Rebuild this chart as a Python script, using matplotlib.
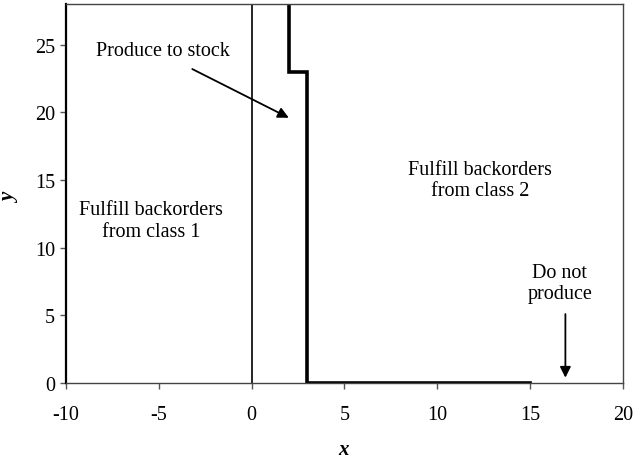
import matplotlib
matplotlib.use("Agg")
import matplotlib.pyplot as plt

# policy boundary (switching curve)
boundary_x = [2, 2, 3, 3, 15]
boundary_y = [28, 23, 23, 0, 0]

# thin vertical reference line at x = 0
ref_x = [0, 0]
ref_y = [0, 28]

x_ticks = [-10, -5, 0, 5, 10, 15, 20]
y_ticks = [0, 5, 10, 15, 20, 25]

plt.rcParams["font.family"] = ["Liberation Serif", "DejaVu Serif"]
plt.rcParams["axes.unicode_minus"] = False

fig = plt.figure(figsize=(6.35, 4.60), dpi=100)
ax = fig.add_axes([0.104, 0.165, 0.877, 0.824])

ax.plot(ref_x, ref_y, color="black", lw=1.2)
ax.plot(boundary_x, boundary_y, color="black", lw=2.6, solid_joinstyle="miter")

ax.set_xlim(-10, 20)
ax.set_ylim(0, 28)
ax.set_xticks(x_ticks)
ax.set_yticks(y_ticks)
ax.tick_params(labelsize=14.5, length=4, width=1, color="#555555")
ax.tick_params(axis="x", pad=12)
ax.tick_params(axis="y", pad=4)

for side in ["top", "right", "bottom"]:
    ax.spines[side].set_color("#444444")
    ax.spines[side].set_linewidth(1)
ax.spines["left"].set_linewidth(1.6)

ax.set_xlabel("x", fontsize=15, fontweight="bold", style="italic")
ax.set_ylabel("y", fontsize=15, fontweight="bold", style="italic")
ax.xaxis.set_label_coords(0.498, -0.148)
ax.yaxis.set_label_coords(-0.083, 0.49)

ax.text(-4.8, 24.6, "Produce to stock", fontsize=14.5, ha="center", va="center")
ax.annotate("", xy=(2.0, 19.6), xytext=(-3.2, 23.2),
            arrowprops=dict(arrowstyle="-|>", color="black", lw=1.3,
                            mutation_scale=16, shrinkA=0, shrinkB=0))

ax.text(-5.4, 12.0, "Fulfill backorders\nfrom class 1", fontsize=14.5,
        ha="center", va="center", linespacing=1.2)
ax.text(12.3, 15.0, "Fulfill backorders\nfrom class 2", fontsize=14.5,
        ha="center", va="center", linespacing=1.2)

ax.text(16.6, 7.4, "Do not\nproduce", fontsize=14.5, ha="center", va="center",
        linespacing=1.2)
ax.annotate("", xy=(16.9, 0.4), xytext=(16.9, 5.1),
            arrowprops=dict(arrowstyle="-|>", color="black", lw=1.3,
                            mutation_scale=16, shrinkA=0, shrinkB=0))

fig.savefig("out.png", dpi=100)
